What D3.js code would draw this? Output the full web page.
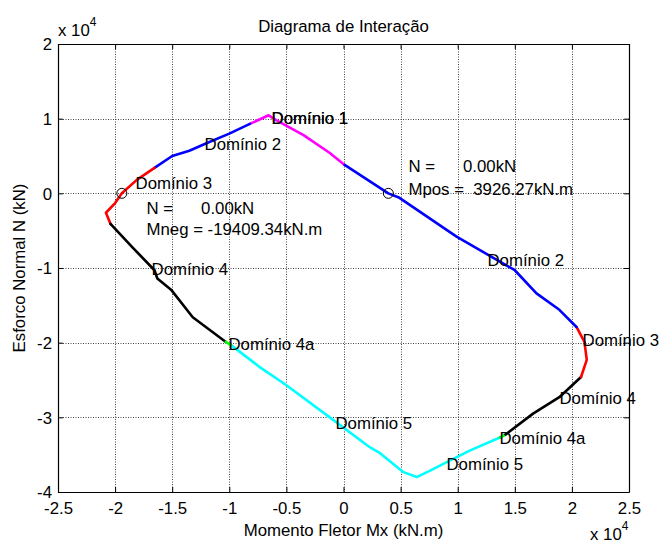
<!DOCTYPE html>
<html>
<head>
<meta charset="utf-8">
<script src="https://cdn.jsdelivr.net/npm/d3@7"></script>
<style>
  html, body { margin: 0; padding: 0; background: #fff; }
  svg text { font-family: "Liberation Sans", Arial, Helvetica, sans-serif; fill: #000; }
</style>
</head>
<body>
<svg id="chart" width="660" height="545"></svg>
<script>
// Interaction diagram (N x Mx), values in kN and kN.m
const xTicks = [-25000, -20000, -15000, -10000, -5000, 0, 5000, 10000, 15000, 20000, 25000];
const yTicks = [-40000, -30000, -20000, -10000, 0, 10000, 20000];
const xTickLabels = ["-2.5", "-2", "-1.5", "-1", "-0.5", "0", "0.5", "1", "1.5", "2", "2.5"];
const yTickLabels = ["-4", "-3", "-2", "-1", "0", "1", "2"];

// Curve pieces, one per domain, traversed around the envelope
const dominio1 = [[100, 3800], [-1200, 5400], [-3500, 7800], [-5900, 9800], [-6550, 10450], [-8200, 9300]];
const dominio2Neg = [[-8200, 9300], [-10000, 8000], [-12000, 6700], [-13500, 5700], [-15000, 5000], [-16550, 3400]];
const dominio3Neg = [[-16550, 3400], [-18100, 1800], [-19409.34, 0], [-20000, -1300], [-20800, -2600], [-20400, -4100]];
const dominio4Neg = [[-20400, -4100], [-18500, -7200], [-16550, -10300], [-16300, -11400], [-15100, -12900], [-13200, -16600], [-10300, -19900]];
const dominio4aNeg = [[-10300, -19900], [-9700, -20500]];
const dominio5 = [[-9700, -20500], [-7400, -23200], [-5000, -25700], [-1200, -30000], [2300, -34000], [3200, -34800], [5200, -37300], [6400, -38000], [7500, -37200], [8400, -36500], [11000, -34500], [13700, -32700]];
const dominio4aPos = [[13700, -32700], [14200, -32300]];
const dominio4Pos = [[14200, -32300], [16600, -29500], [18900, -27300], [20800, -24600]];
const dominio3Pos = [[20800, -24600], [21300, -22300], [21100, -19900], [20400, -17900]];
const dominio2Pos = [[20400, -17900], [18900, -15600], [16900, -13400], [15000, -10300], [9900, -5800], [4900, -600], [3926.27, 0], [100, 3800]];

const segments = [
  { pts: dominio1, color: "#ff00ff" },
  { pts: dominio2Neg, color: "#0000ff" },
  { pts: dominio3Neg, color: "#ff0000" },
  { pts: dominio4Neg, color: "#000000" },
  { pts: dominio4aNeg, color: "#00ff00" },
  { pts: dominio5, color: "#00ffff" },
  { pts: dominio4aPos, color: "#00ff00" },
  { pts: dominio4Pos, color: "#000000" },
  { pts: dominio3Pos, color: "#ff0000" },
  { pts: dominio2Pos, color: "#0000ff" }
];

// Zero-axial-load points
const zeroPoints = [[-19409.34, 0], [3926.27, 0]];

// Domain labels (anchored at their left edge, vertically centred)
const domainLabels = [
  ["Domínio 1", -6300, 10100],
  ["Domínio 1", -6300, 10100],
  ["Domínio 2", -12170, 6600],
  ["Domínio 3", -18210, 1380],
  ["Domínio 4", -16810, -10140],
  ["Domínio 4a", -10070, -20180],
  ["Domínio 5", -700, -30760],
  ["Domínio 5", 9020, -36250],
  ["Domínio 4a", 13660, -32770],
  ["Domínio 4", 18910, -27410],
  ["Domínio 3", 20930, -19650],
  ["Domínio 2", 12610, -8930]
];

const resultLabels = [
  ["N =      0.00kN", -17250, -1970],
  ["Mneg = -19409.34kN.m", -17250, -4780],
  ["N =      0.00kN", 5690, 3660],
  ["Mpos =  3926.27kN.m", 5690, 570]
];

const W = 660, H = 545;
const margin = { left: 58, right: 31, top: 44, bottom: 53 };
const svg = d3.select("#chart");

const x = d3.scaleLinear().domain([-25000, 25000]).range([margin.left, W - margin.right]);
const y = d3.scaleLinear().domain([-40000, 20000]).range([H - margin.bottom, margin.top]);

const fontSize = 16.8;

// Dotted grid
const grid = svg.append("g").attr("stroke", "#444").attr("stroke-width", 1).attr("stroke-dasharray", "1,1.5");
grid.append("g").selectAll("line").data(xTicks.slice(1, -1)).join("line")
  .attr("x1", d => Math.round(x(d)) + 0.5).attr("x2", d => Math.round(x(d)) + 0.5)
  .attr("y1", y.range()[1]).attr("y2", y.range()[0]);
grid.append("g").selectAll("line").data(yTicks.slice(1, -1)).join("line")
  .attr("y1", d => Math.round(y(d)) + 0.5).attr("y2", d => Math.round(y(d)) + 0.5)
  .attr("x1", x.range()[0]).attr("x2", x.range()[1]);

// Axes with inward ticks on all four sides
const tickLen = 5;
const xi = d3.scaleOrdinal().domain(xTicks).range(xTickLabels);
const yi = d3.scaleOrdinal().domain(yTicks).range(yTickLabels);

const axB = svg.append("g").attr("transform", `translate(0,${y(-40000)})`)
  .call(d3.axisBottom(x).tickValues(xTicks).tickSizeInner(-tickLen).tickSizeOuter(0).tickPadding(10).tickFormat(d => xi(d)));
const axT = svg.append("g").attr("transform", `translate(0,${y(20000)})`)
  .call(d3.axisTop(x).tickValues(xTicks).tickSizeInner(-tickLen).tickSizeOuter(0).tickFormat(""));
const axL = svg.append("g").attr("transform", `translate(${x(-25000)},0)`)
  .call(d3.axisLeft(y).tickValues(yTicks).tickSizeInner(-tickLen).tickSizeOuter(0).tickPadding(6).tickFormat(d => yi(d)));
const axR = svg.append("g").attr("transform", `translate(${x(25000)},0)`)
  .call(d3.axisRight(y).tickValues(yTicks).tickSizeInner(-tickLen).tickSizeOuter(0).tickFormat(""));

[axB, axT, axL, axR].forEach(a => {
  a.select(".domain").attr("stroke", "#000").attr("stroke-width", 1.2);
  a.selectAll(".tick line").attr("stroke", "#000").attr("stroke-width", 1);
  a.selectAll(".tick text").attr("font-size", fontSize).attr("font-family", "Liberation Sans, Arial, sans-serif").attr("fill", "#000");
});
axB.selectAll(".tick text").attr("dy", "0.71em");
axL.selectAll(".tick text").attr("dy", "0.35em");

// Curve
const line = d3.line().x(d => x(d[0])).y(d => y(d[1]));
svg.append("g").selectAll("path").data(segments).join("path")
  .attr("d", d => line(d.pts))
  .attr("fill", "none")
  .attr("stroke", d => d.color)
  .attr("stroke-width", 2.6)
  .attr("stroke-linejoin", "round")
  .attr("stroke-linecap", "round");

// Markers at N = 0
svg.append("g").selectAll("circle").data(zeroPoints).join("circle")
  .attr("cx", d => x(d[0])).attr("cy", d => y(d[1])).attr("r", 5)
  .attr("fill", "none").attr("stroke", "#000").attr("stroke-width", 1);

// Text labels
svg.append("g").selectAll("text").data(domainLabels.concat(resultLabels)).join("text")
  .attr("x", d => x(d[1])).attr("y", d => y(d[2]))
  .attr("dy", "0.35em")
  .attr("font-size", fontSize)
  .style("white-space", "pre")
  .text(d => d[0]);

// Title and axis titles
svg.append("text").attr("x", (x.range()[0] + x.range()[1]) / 2).attr("y", 32)
  .attr("text-anchor", "middle").attr("font-size", fontSize).text("Diagrama de Interação");
svg.append("text").attr("x", (x.range()[0] + x.range()[1]) / 2).attr("y", 536)
  .attr("text-anchor", "middle").attr("font-size", fontSize).text("Momento Fletor Mx (kN.m)");
svg.append("text")
  .attr("transform", `translate(25,${(y.range()[0] + y.range()[1]) / 2}) rotate(-90)`)
  .attr("text-anchor", "middle").attr("font-size", fontSize).text("Esforco Normal N (kN)");

// Exponent notes
const expTop = svg.append("text").attr("x", 58).attr("y", 36).attr("font-size", fontSize);
expTop.append("tspan").text("x 10");
expTop.append("tspan").attr("dy", -10).attr("font-size", 12).text("4");
const expBot = svg.append("text").attr("x", 590).attr("y", 540).attr("font-size", fontSize);
expBot.append("tspan").text("x 10");
expBot.append("tspan").attr("dy", -10).attr("font-size", 12).text("4");
</script>
</body>
</html>
